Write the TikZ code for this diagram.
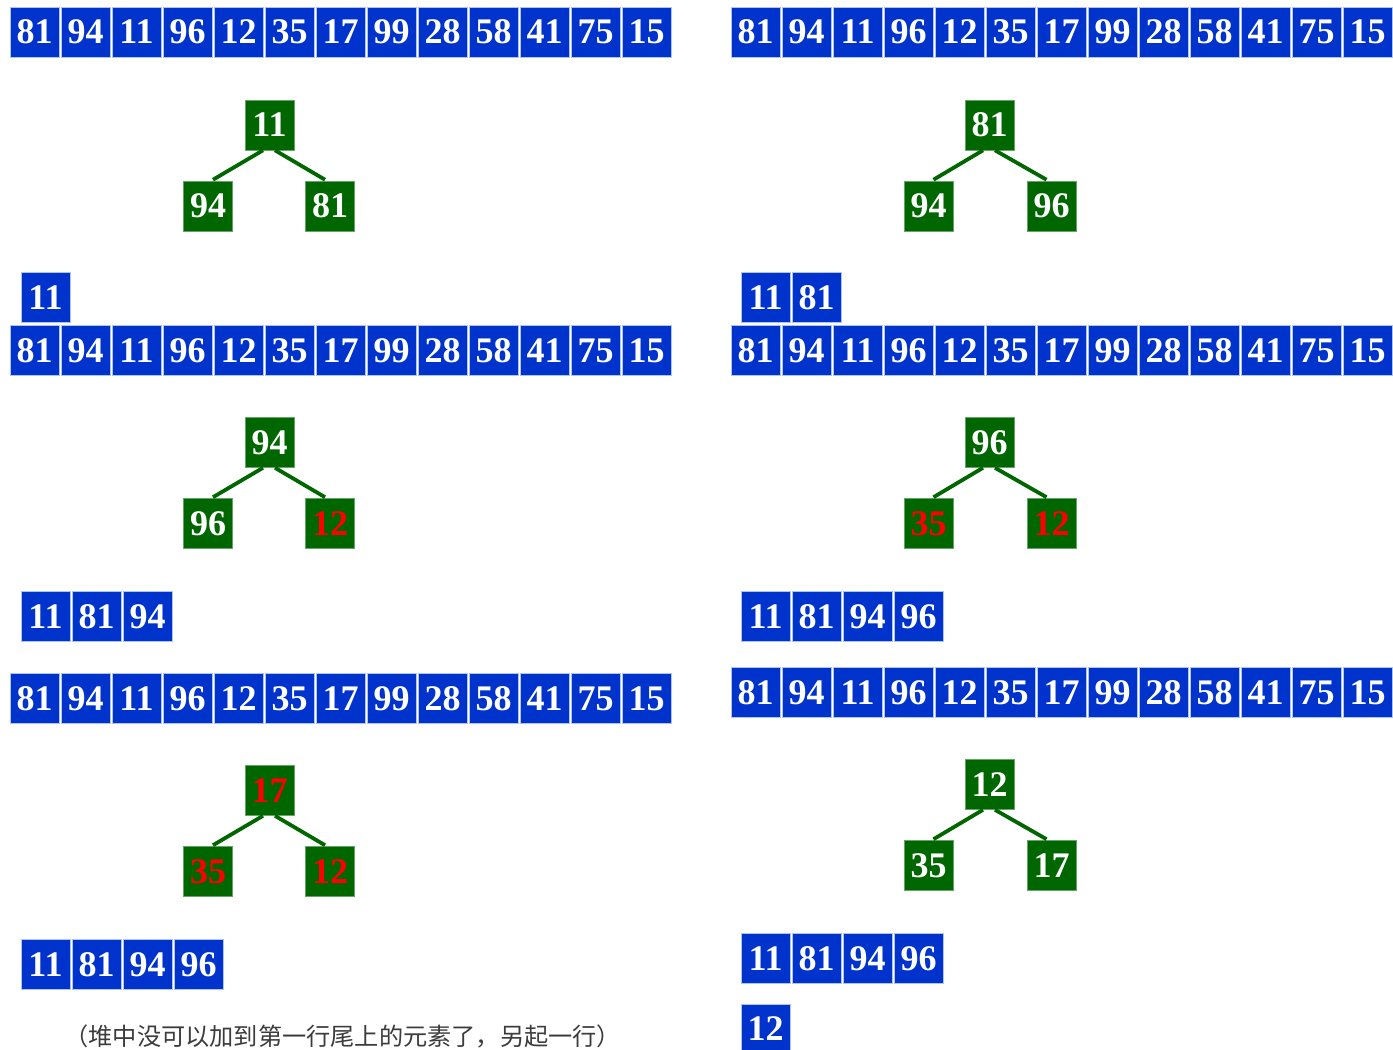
\documentclass[tikz,border=0pt]{standalone}
\usepackage{fontspec}
\setmainfont{Liberation Serif}
\newfontfamily\cjk{Noto Sans CJK SC}
\definecolor{cellblue}{RGB}{0,51,204}
\definecolor{cellborder}{RGB}{175,195,235}
\definecolor{treegreen}{RGB}{0,102,0}
\definecolor{hotred}{RGB}{255,0,0}
\definecolor{capgray}{RGB}{60,60,60}
\begin{document}
\begin{tikzpicture}[x=1pt,y=-1pt,
  numfont/.style={font=\fontsize{36}{36}\selectfont\bfseries},
  cell/.style={draw=cellborder, line width=0.8pt, fill=cellblue, text=white,
    minimum width=49pt, minimum height=50pt, inner sep=0pt, numfont},
  tnode/.style={draw=treegreen!60!white, line width=0.6pt, fill=treegreen, text=white,
    minimum width=49pt, minimum height=50pt, inner sep=0pt, numfont},
  hot/.style={text=hotred},
  tedge/.style={draw=treegreen, line width=3.8pt},
  caption/.style={text=capgray, font=\cjk\fontsize{24.2}{24.2}\selectfont}]
\useasboundingbox (0,0) rectangle (1393,1050);

% ---------- full arrays ----------
\foreach \v [count=\i from 0] in {81,94,11,96,12,35,17,99,28,58,41,75,15}{
  \node[cell] (aL1\i) at (34.5+51*\i, 32) {\v};
  \node[cell] (aR1\i) at (755.5+51*\i, 32) {\v};
  \node[cell] (aL2\i) at (34.5+51*\i, 350.5) {\v};
  \node[cell] (aR2\i) at (755.5+51*\i, 350.5) {\v};
  \node[cell] (aL3\i) at (34.5+51*\i, 698.5) {\v};
  \node[cell] (aR3\i) at (755.5+51*\i, 692.5) {\v};
}

% ---------- output rows ----------
\node[cell] (oL2a) at (45.5, 297.5) {11};
\foreach \v [count=\i from 0] in {11,81}{
  \node[cell] (oR2\i) at (765.5+51*\i, 297.5) {\v};
}
\foreach \v [count=\i from 0] in {11,81,94}{
  \node[cell] (oL3\i) at (45.5+51*\i, 616.5) {\v};
}
\foreach \v [count=\i from 0] in {11,81,94,96}{
  \node[cell] (oR3\i) at (765.5+51*\i, 616.5) {\v};
  \node[cell] (oL4\i) at (45.5+51*\i, 964.5) {\v};
  \node[cell] (oR4\i) at (765.5+51*\i, 958.5) {\v};
}
\node[cell] (oR5) at (765.5, 1029) {12};

% ---------- trees ----------
% tree 1 left
\node[tnode] (t1r) at (269.5,125) {11};
\node[tnode] (t1a) at (208,206) {94};
\node[tnode] (t1b) at (330,206) {81};
% tree 1 right
\node[tnode] (u1r) at (989.5,125) {81};
\node[tnode] (u1a) at (928.5,206) {94};
\node[tnode] (u1b) at (1051.5,206) {96};
% tree 2 left
\node[tnode] (t2r) at (269.5,442.5) {94};
\node[tnode] (t2a) at (208,523.5) {96};
\node[tnode,hot] (t2b) at (330,523.5) {12};
% tree 2 right
\node[tnode] (u2r) at (989.5,442.5) {96};
\node[tnode,hot] (u2a) at (928.5,523.5) {35};
\node[tnode,hot] (u2b) at (1051.5,523.5) {12};
% tree 3 left
\node[tnode,hot] (t3r) at (269.5,790.5) {17};
\node[tnode,hot] (t3a) at (208,871.5) {35};
\node[tnode,hot] (t3b) at (330,871.5) {12};
% tree 3 right
\node[tnode] (u3r) at (989.5,784.5) {12};
\node[tnode] (u3a) at (928.5,865.5) {35};
\node[tnode] (u3b) at (1051.5,865.5) {17};

\foreach \t in {t1,u1,t2,u2,t3,u3}{
  \draw[tedge] ([xshift=-6.5pt]\t r.south) -- ([xshift=5pt,yshift=1pt]\t a.north);
  \draw[tedge] ([xshift=5.5pt]\t r.south) -- ([xshift=-5pt,yshift=1pt]\t b.north);
}

% ---------- caption ----------
\node[caption, anchor=west] (cap) at (61,1036) {（堆中没可以加到第一行尾上的元素了，另起一行）};
\end{tikzpicture}
\end{document}
